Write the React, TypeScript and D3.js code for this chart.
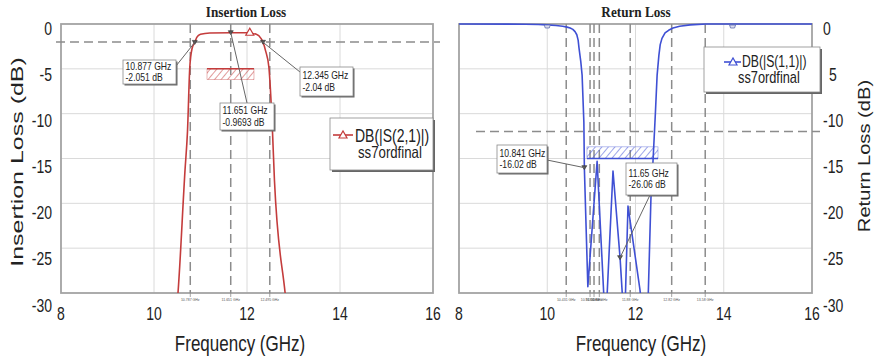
import React from "react";
import * as d3 from "d3";

// ---------- data ----------
const s21Freq = [10.4, 10.516, 10.667, 10.72, 10.77, 10.82, 10.877, 10.92, 11.0, 11.2, 11.651, 12.0, 12.2, 12.3, 12.345, 12.4, 12.47, 12.55, 12.59, 12.82, 12.9];
const s21DB = [-36, -30, -16.3, -12, -4.8, -2.7, -2.051, -1.5, -1.15, -1.0, -0.9693, -0.98, -1.15, -1.6, -2.04, -3.0, -4.8, -12.2, -17.4, -30, -34];

const s11Freq = [8, 9.5, 9.8, 10.0, 10.2, 10.35, 10.45, 10.52, 10.58, 10.63, 10.67, 10.7, 10.72, 10.76, 10.79, 10.83, 10.841, 10.92, 11.13, 11.32, 11.49, 11.65, 11.75, 11.83, 12.1, 12.2, 12.26, 12.29, 12.35, 12.4, 12.45, 12.49, 12.53, 12.56, 12.6, 12.67, 12.75, 12.85, 13.0, 13.24, 13.6, 16];
const s11DB = [0, -0.02, -0.05, -0.1, -0.16, -0.25, -0.35, -0.45, -0.6, -0.85, -1.2, -1.8, -2.7, -4.2, -5.7, -11, -16.02, -29.3, -15.3, -34, -16.4, -26.06, -34, -20.3, -29.6, -34, -34, -30, -19.4, -15, -10, -5.7, -3.5, -2.3, -1.6, -1.0, -0.7, -0.45, -0.25, -0.1, 0, 0];

const xTicks = [8, 10, 12, 14, 16];
const xTickLabels = ["8", "10", "12", "14", "16"];
const yTicks = [0, -5, -10, -15, -20, -25, -30];
const leftYTickLabels = ["0", "-5", "-10", "-15", "-20", "-25", "-30"];
const rightYTickLabels = ["0", "5", "-10", "-15", "-20", "-25", "-30"];

const leftMarkerFreq = [10.877, 11.651, 12.345];
const leftMarkerDB = [-2.051, -0.9693, -2.04];
const leftMarkerText = [["10.877 GHz", "-2.051 dB"], ["11.651 GHz", "-0.9693 dB"], ["12.345 GHz", "-2.04 dB"]];
const rightMarkerFreq = [10.841, 11.65];
const rightMarkerDB = [-16.02, -26.06];
const rightMarkerText = [["10.841 GHz", "-16.02 dB"], ["11.65 GHz", "-26.06 dB"]];

const leftVLineFreq = [10.78, 11.65, 12.49];
const leftVLineText = ["10.787 GHz", "11.651 GHz", "12.495 GHz"];
const rightVLineFreq = [10.43, 10.97, 11.06, 11.18, 11.88, 12.82, 13.58];
const rightVLineText = ["10.431 GHz", "10.969 GHz", "11.06 GHz", "11.18 GHz", "11.88 GHz", "12.82 GHz", "13.58 GHz"];

const leftHLineDB = -2;
const rightHLineDB = -12;
const leftSpecFreq = [11.14, 12.15];
const leftSpecDB = [-5, -6.2];
const rightSpecFreq = [10.9, 12.51];
const rightSpecDB = [-13.7, -15];
const leftSymbolFreq = [12.06];
const rightSymbolFreq = [10.0, 14.2];

// ---------- layout ----------
const W = 875, H = 361;
const RED = "#c43c3c";
const BLUE = "#3f50d4";
const SANS = "'Liberation Sans', Arial, sans-serif";
const SERIF = "'Liberation Serif', 'Times New Roman', serif";

type TP = { x: number; y: number; sx?: number; sy?: number; rot?: number; size: number; anchor?: string; family?: string; weight?: string | number; fill?: string; children: React.ReactNode };
function T({ x, y, sx = 1, sy = 1, rot = 0, size, anchor = "start", family = SANS, weight = "normal", fill = "#222", children }: TP) {
  return (
    <text transform={`translate(${x},${y}) rotate(${rot}) scale(${sx},${sy})`} fontSize={size} textAnchor={anchor} fontFamily={family} fontWeight={weight} fill={fill}>
      {children}
    </text>
  );
}

function Panel(props: {
  id: string; x0: number; x1: number; title: string; titleX: number; color: string;
  freq: number[]; db: number[]; curve: any;
  yLabels: string[]; yLabelX: number; yLabelAnchor: string;
  vFreq: number[]; vText: string[]; hDB: number; hX0: number; hX1: number;
  specF: number[]; specDB: number[]; specSolidTop: boolean;
  mF: number[]; mDB: number[]; mText: string[][];
  boxes: { x: number; y: number; w: number; h: number; lx: number; ly: number }[];
  xTitleX: number;
}) {
  const y0 = 24, y1 = 293;
  const x = d3.scaleLinear().domain([8, 16]).range([props.x0, props.x1]);
  const y = d3.scaleLinear().domain([0, -30]).range([y0, y1]);
  const yLab = d3.scaleLinear().domain([0, -30]).range([28, 305]);
  const data = props.freq.map((f, i) => [f, props.db[i]] as [number, number]);
  const line = d3.line<[number, number]>().x(d => x(d[0])).y(d => y(d[1])).curve(props.curve);
  const grid = "#dadada";
  const frame = "#a3a3a3";
  const dash = "#8c8c8c";
  return (
    <g>
      <defs>
        <clipPath id={`clip-${props.id}`}>
          <rect x={props.x0} y={y0 - 2} width={props.x1 - props.x0} height={y1 - y0 + 2} />
        </clipPath>
        <pattern id={`hatch-${props.id}`} patternUnits="userSpaceOnUse" width={5} height={5} patternTransform="rotate(40)">
          <line x1={0} y1={0} x2={0} y2={5} stroke={props.color} strokeWidth={1.3} opacity={0.8} />
        </pattern>
      </defs>
      <rect x={props.x0} y={y0} width={props.x1 - props.x0} height={y1 - y0} fill="#fff" />
      {xTicks.slice(1, -1).map(t => (
        <line key={"gx" + t} x1={x(t)} x2={x(t)} y1={y0} y2={y1} stroke={grid} strokeWidth={1} />
      ))}
      {yTicks.slice(1, -1).map(t => (
        <line key={"gy" + t} x1={props.x0} x2={props.x1} y1={y(t)} y2={y(t)} stroke={grid} strokeWidth={1} />
      ))}
      <rect x={props.x0} y={y0} width={props.x1 - props.x0} height={y1 - y0} fill="none" stroke={frame} strokeWidth={1.8} />
      {props.vFreq.map((f, i) => (
        <g key={"v" + i}>
          <line x1={x(f)} x2={x(f)} y1={y0} y2={y1} stroke={dash} strokeWidth={1.5} strokeDasharray="9,5" />
          <line x1={x(f)} x2={x(f)} y1={y1} y2={y1 + 4} stroke={dash} strokeWidth={0.8} />
          <T x={x(f)} y={y1 + 8} size={3.5} anchor="middle" fill="#555">{props.vText[i]}</T>
        </g>
      ))}
      <line x1={props.hX0} x2={props.hX1} y1={y(props.hDB)} y2={y(props.hDB)} stroke={dash} strokeWidth={1.5} strokeDasharray="9,5" />
      <rect x={x(props.specF[0])} y={y(props.specDB[0])} width={x(props.specF[1]) - x(props.specF[0])} height={y(props.specDB[1]) - y(props.specDB[0])} fill={`url(#hatch-${props.id})`} stroke={props.color} strokeWidth={0.6} strokeOpacity={0.6} />
      <line x1={x(props.specF[0])} x2={x(props.specF[1])}
        y1={props.specSolidTop ? y(props.specDB[0]) : y(props.specDB[1])}
        y2={props.specSolidTop ? y(props.specDB[0]) : y(props.specDB[1])}
        stroke={props.color} strokeWidth={1.5} />
      <g clipPath={`url(#clip-${props.id})`}>
        <path d={line(data) || ""} fill="none" stroke={props.color} strokeWidth={1.6} strokeLinejoin="round" />
      </g>
      {props.mF.map((f, i) => (
        <path key={"m" + i} d={`M${x(f) - 2.5},${y(props.mDB[i]) - 2}L${x(f) + 2.5},${y(props.mDB[i]) - 2}L${x(f)},${y(props.mDB[i]) + 2}Z`} fill="#555" stroke="#333" strokeWidth={0.6} />
      ))}
      {props.boxes.map((b, i) => (
        <g key={"b" + i}>
          <line x1={b.lx} y1={b.ly} x2={x(props.mF[i])} y2={y(props.mDB[i])} stroke="#666" strokeWidth={1} />
          <rect x={b.x + 1.5} y={b.y + 1.5} width={b.w} height={b.h} fill="#666" />
          <rect x={b.x} y={b.y} width={b.w} height={b.h} fill="#fff" stroke="#8a8a8a" strokeWidth={0.8} />
          <T x={b.x + 2.5} y={b.y + b.h / 2 - 2.5} size={10} sx={0.86} sy={1.05}>{props.mText[i][0]}</T>
          <T x={b.x + 2.5} y={b.y + b.h / 2 + 9} size={10} sx={0.86} sy={1.05}>{props.mText[i][1]}</T>
        </g>
      ))}
      {xTicks.map((t, i) => (
        <T key={"xl" + t} x={x(t)} y={319.5} size={14} sy={1.3} anchor="middle">{xTickLabels[i]}</T>
      ))}
      {yTicks.map((t, i) => {
        const lab = props.yLabels[i];
        const shift = props.yLabelAnchor === "start" && lab !== "0" && !lab.startsWith("-") ? 6 : 0;
        return <T key={"yl" + t} x={props.yLabelX + shift} y={yLab(t) + 6.5} size={14} sy={1.3} anchor={props.yLabelAnchor}>{lab}</T>;
      })}
      <T x={props.titleX} y={17} size={13.2} sy={1.15} anchor="middle" family={SERIF} weight="bold">{props.title}</T>
      <T x={props.xTitleX} y={351} size={17} sy={1.25} anchor="middle">Frequency (GHz)</T>
    </g>
  );
}

export default function App() {
  const xl = d3.scaleLinear().domain([8, 16]).range([61, 433]);
  const xr = d3.scaleLinear().domain([8, 16]).range([459, 812]);
  const yy = d3.scaleLinear().domain([0, -30]).range([24, 293]);
  return (
    <svg width={W} height={H} viewBox={`0 0 ${W} ${H}`} style={{ position: "absolute", left: 0, top: 0, background: "#fff" }}>
      <rect x={0} y={0} width={W} height={H} fill="#fff" />
      <Panel id="il" x0={61} x1={433} title="Insertion Loss" titleX={246} color={RED}
        freq={s21Freq} db={s21DB} curve={d3.curveMonotoneX}
        yLabels={leftYTickLabels} yLabelX={52} yLabelAnchor="end"
        vFreq={leftVLineFreq} vText={leftVLineText} hDB={leftHLineDB} hX0={56} hX1={440}
        specF={leftSpecFreq} specDB={leftSpecDB} specSolidTop={true}
        mF={leftMarkerFreq} mDB={leftMarkerDB} mText={leftMarkerText}
        boxes={[
          { x: 123, y: 60, w: 53, h: 24, lx: 176, ly: 66 },
          { x: 220, y: 103, w: 54, h: 27, lx: 247, ly: 103 },
          { x: 300, y: 67, w: 53, h: 29, lx: 300, ly: 72 },
        ]}
        xTitleX={240} />
      <Panel id="rl" x0={459} x1={812} title="Return Loss" titleX={636} color={BLUE}
        freq={s11Freq} db={s11DB} curve={d3.curveLinear}
        yLabels={rightYTickLabels} yLabelX={823} yLabelAnchor="start"
        vFreq={rightVLineFreq} vText={rightVLineText} hDB={rightHLineDB} hX0={476} hX1={820}
        specF={rightSpecFreq} specDB={rightSpecDB} specSolidTop={false}
        mF={rightMarkerFreq} mDB={rightMarkerDB} mText={rightMarkerText}
        boxes={[
          { x: 497, y: 145, w: 50, h: 28, lx: 547, ly: 160 },
          { x: 626, y: 163, w: 51, h: 32, lx: 650, ly: 195 },
        ]}
        xTitleX={641} />
      {leftSymbolFreq.map((f, i) => {
        const dbv = d3.scaleLinear().domain(s21Freq).range(s21DB)(f);
        const cx = xl(f), cy = yy(dbv) - 1;
        return <path key={"ls" + i} d={`M${cx - 4},${cy + 3}L${cx + 4},${cy + 3}L${cx},${cy - 4}Z`} fill="#fff" stroke={RED} strokeWidth={1.2} />;
      })}
      {rightSymbolFreq.map((f, i) => {
        const cx = xr(f), cy = yy(0) + 2;
        return <path key={"rs" + i} d={`M${cx - 3},${cy - 1}L${cx + 3},${cy - 1}L${cx + 2},${cy + 2}L${cx - 2},${cy + 2}Z`} fill="#dde" stroke="#6070b0" strokeWidth={0.8} />;
      })}
      <g>
        <rect x={332} y={120} width={103} height={52} fill="#666" />
        <rect x={330} y={118} width={103} height={52} fill="#fff" stroke="#8a8a8a" strokeWidth={0.8} />
        <line x1={333} x2={353} y1={135} y2={135} stroke={RED} strokeWidth={1.6} />
        <path d="M339,138L347,138L343,131Z" fill="#fff" stroke={RED} strokeWidth={1.2} />
        <T x={355} y={142} size={14} sy={1.25}>DB(|S(2,1)|)</T>
        <T x={358} y={158} size={13.2} sy={1.25}>ss7ordfinal</T>
      </g>
      <g>
        <rect x={706} y={49} width={116} height={45} fill="#666" />
        <rect x={704} y={47} width={116} height={45} fill="#fff" stroke="#8a8a8a" strokeWidth={0.8} />
        <line x1={724} x2={741} y1={62} y2={62} stroke={BLUE} strokeWidth={1.6} />
        <path d="M729,65L737,65L733,58Z" fill="#fff" stroke={BLUE} strokeWidth={1.2} />
        <T x={742} y={67} size={12.2} sy={1.3}>DB(|S(1,1)|)</T>
        <T x={738} y={83} size={12.8} sy={1.25}>ss7ordfinal</T>
      </g>
      <T x={23} y={162} rot={-90} sx={1.47} size={17} anchor="middle">Insertion Loss (dB)</T>
      <T x={870} y={156} rot={-90} sx={1.26} size={16} anchor="middle">Return Loss (dB)</T>
    </svg>
  );
}
